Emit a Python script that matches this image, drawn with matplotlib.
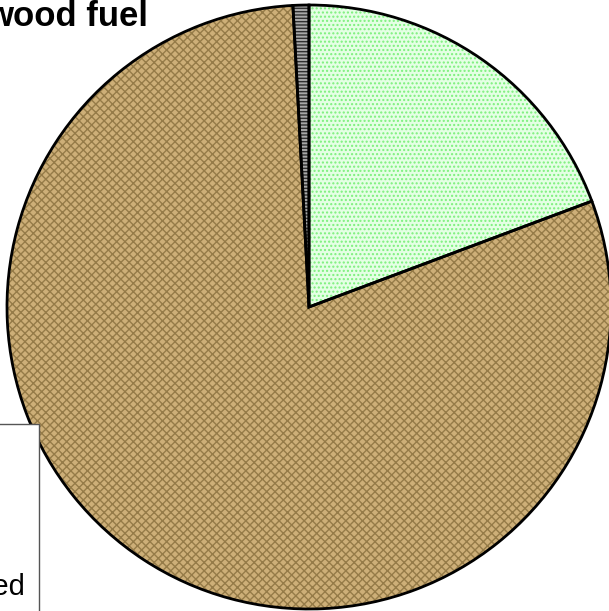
import matplotlib
matplotlib.use("Agg")
import matplotlib.pyplot as plt
from matplotlib.patches import Rectangle

plt.rcParams['font.family'] = ['Liberation Sans', 'DejaVu Sans']

labels = ["Green", "Brown", "Grey"]
values = [19.3, 79.85, 0.85]
faces = ["#E4FFE4", "#CDAF78", "#A8A8A8"]
hatch_cols = ["#7CF07C", "#957B48", "#303030"]
hatches = ["....", "xxxx", "-----"]

W, H = 609, 611
fig = plt.figure(figsize=(W / 100, H / 100), dpi=100)
cx, cy, r = 309, 307, 302
ax = fig.add_axes([(cx - r) / W, (H - cy - r) / H, 2 * r / W, 2 * r / H])

wedges, _ = ax.pie(values, startangle=90, counterclock=False, radius=1,
                   colors=faces, wedgeprops=dict(linewidth=0))
for w, hc, h in zip(wedges, hatch_cols, hatches):
    w.set_hatch(h)
    w.set_edgecolor(hc)
    w.set_linewidth(0)
    w.set_clip_on(False)
wedges2, _ = ax.pie(values, startangle=90, counterclock=False, radius=1,
                    wedgeprops=dict(fill=False, edgecolor="black", linewidth=2))
for w in wedges2:
    w.set_clip_on(False)
ax.set_xlim(-1, 1)
ax.set_ylim(-1, 1)
ax.set_aspect("equal")
ax.axis("off")

fig.text(148 / W, 1 - 26 / H, "wood fuel", ha="right", va="baseline",
         fontsize=25, fontweight="bold", color="black")

leg = Rectangle((-10 / W, -10 / H), 49 / W, (H - 424 + 10) / H,
                transform=fig.transFigure, facecolor="white",
                edgecolor="#555555", linewidth=1, zorder=5)
fig.add_artist(leg)
fig.text(26 / W, 1 - 595 / H, "Mixed", ha="right", va="baseline",
         fontsize=21, color="black", zorder=6)

fig.savefig("out.png", dpi=100)
